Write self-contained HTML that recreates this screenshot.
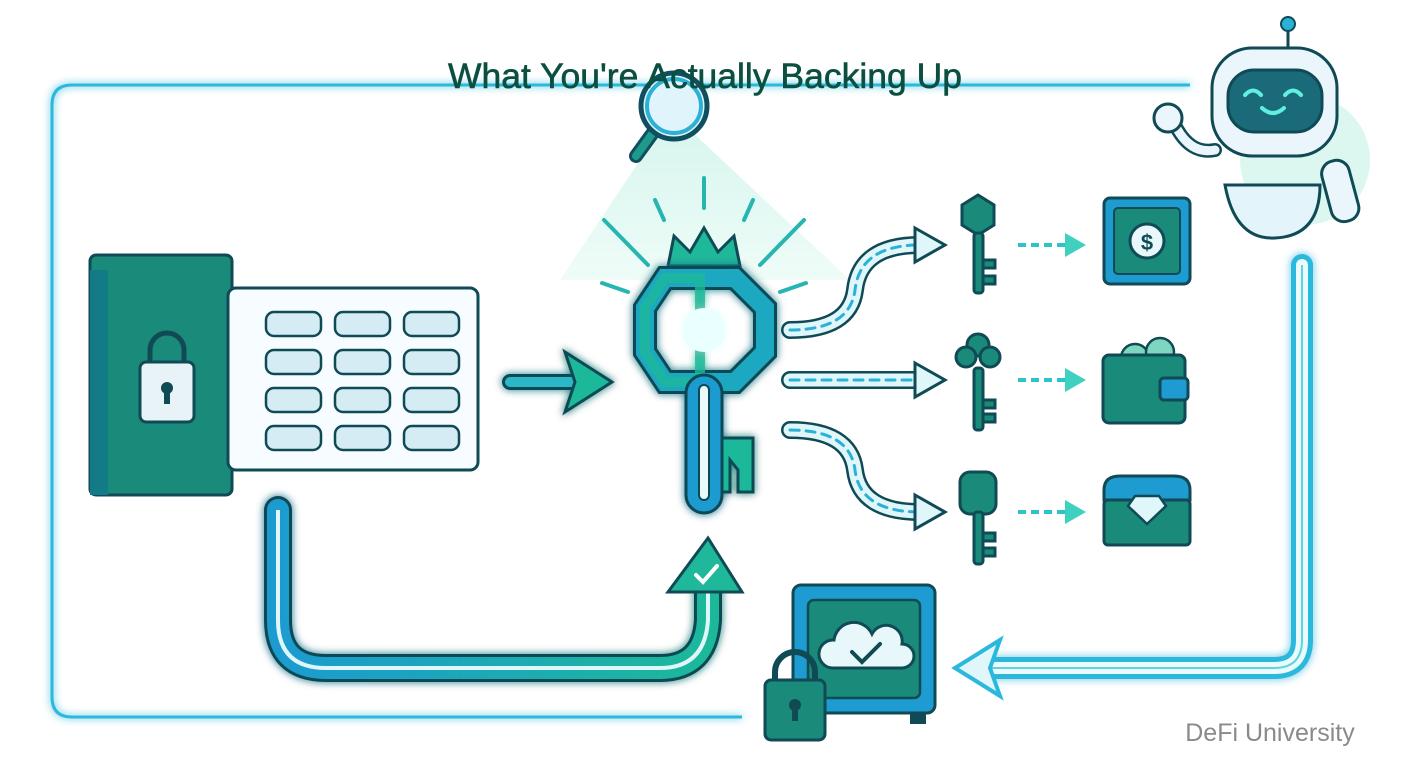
<!DOCTYPE html>
<html><head><meta charset="utf-8"><style>
html,body{margin:0;padding:0;background:#fff;width:1408px;height:768px;overflow:hidden}
svg{display:block}
</style></head><body>
<svg width="1408" height="768" viewBox="0 0 1408 768" xmlns="http://www.w3.org/2000/svg">
<defs>
<filter id="glow" x="-20%" y="-20%" width="140%" height="140%"><feGaussianBlur stdDeviation="4" result="b"/><feMerge><feMergeNode in="b"/><feMergeNode in="SourceGraphic"/></feMerge></filter>
<linearGradient id="cone" x1="0" y1="0" x2="0" y2="1"><stop offset="0" stop-color="#d8f6ee"/><stop offset="1" stop-color="#effcf8"/></linearGradient>
<linearGradient id="ug" x1="0" y1="0" x2="1" y2="0"><stop offset="0" stop-color="#1e9bd0"/><stop offset="1" stop-color="#1fb89a"/></linearGradient>
</defs>
<polygon points="660,130 560,280 850,280 690,130" fill="url(#cone)"/>
<path d="M1190,85 H72 Q52,85 52,105 V697 Q52,717 72,717 H742" fill="none" stroke="#2bb8dc" stroke-width="3" filter="url(#glow)"/>
<!-- magnifier -->
<line x1="636" y1="156" x2="652" y2="134" stroke="#0f4f60" stroke-width="14" stroke-linecap="round"/>
<line x1="636" y1="156" x2="652" y2="134" stroke="#1f9a8a" stroke-width="8" stroke-linecap="round"/>
<circle cx="674" cy="106" r="33" fill="#dff4fb" stroke="#0f4f60" stroke-width="5"/>
<circle cx="674" cy="106" r="27" fill="none" stroke="#2bb0d6" stroke-width="4"/>
<text x="705" y="88" text-anchor="middle" font-family="Liberation Sans, sans-serif" font-size="35.5" fill="#0b4f40" stroke="#0b4f40" stroke-width="0.6">What You're Actually Backing Up</text>
<!-- book -->
<rect x="90" y="255" width="142" height="240" rx="6" fill="#1a8a7a" stroke="#0f4a55" stroke-width="3"/>
<rect x="90" y="270" width="18" height="225" fill="#137a88"/>
<rect x="228" y="288" width="250" height="182" rx="8" fill="#f6fcff" stroke="#0f4a55" stroke-width="3"/>
<rect x="140" y="362" width="54" height="60" rx="6" fill="#e8f3f7" stroke="#0f4a55" stroke-width="3"/>
<path d="M150,362 V350 a17,17 0 0 1 34,0 V362" fill="none" stroke="#0f4a55" stroke-width="5"/>
<circle cx="167" cy="388" r="6" fill="#0f4a55"/><rect x="164" y="390" width="6" height="14" fill="#0f4a55"/>
<g fill="#d5ecf5" stroke="#0f4a55" stroke-width="2.5">
<rect x="266" y="312" width="55" height="24" rx="8"/><rect x="335" y="312" width="55" height="24" rx="8"/><rect x="404" y="312" width="55" height="24" rx="8"/>
<rect x="266" y="350" width="55" height="24" rx="8"/><rect x="335" y="350" width="55" height="24" rx="8"/><rect x="404" y="350" width="55" height="24" rx="8"/>
<rect x="266" y="388" width="55" height="24" rx="8"/><rect x="335" y="388" width="55" height="24" rx="8"/><rect x="404" y="388" width="55" height="24" rx="8"/>
<rect x="266" y="426" width="55" height="24" rx="8"/><rect x="335" y="426" width="55" height="24" rx="8"/><rect x="404" y="426" width="55" height="24" rx="8"/>
</g>
<g filter="url(#glow)"><path d="M510,382 H575" stroke="#0f4a55" stroke-width="16" stroke-linecap="round"/><path d="M510,382 H575" stroke="#2ab8c8" stroke-width="10" stroke-linecap="round"/>
<polygon points="565,352 612,382 565,412 575,382" fill="#1fb89a" stroke="#0f4a55" stroke-width="3"/></g>
<g stroke="#26b5b0" stroke-width="4" stroke-linecap="round">
<line x1="704" y1="178" x2="704" y2="208"/><line x1="655" y1="200" x2="664" y2="220"/><line x1="753" y1="200" x2="744" y2="220"/>
<line x1="604" y1="220" x2="648" y2="265"/><line x1="804" y1="220" x2="760" y2="265"/>
<line x1="602" y1="283" x2="628" y2="292"/><line x1="806" y1="283" x2="780" y2="292"/>
</g>
<!-- master key -->
<polygon points="668,266 674,236 690,252 704,228 718,252 734,236 740,266" fill="#1fb89a" stroke="#0f4a55" stroke-width="3"/>
<g filter="url(#glow)">
<polygon points="665,278 735,278 765,308 765,352 735,382 665,382 645,352 645,308" fill="none" stroke="#0f4a55" stroke-width="24"/>
<polygon points="665,278 735,278 765,308 765,352 735,382 665,382 645,352 645,308" fill="none" stroke="#1ea8c0" stroke-width="18"/>
<polygon points="665,278 700,278 700,382 665,382 645,352 645,308" fill="none" stroke="#1fb89a" stroke-width="10" opacity="0.8"/>
<circle cx="704" cy="330" r="22" fill="#eaffff"/>
<rect x="686" y="375" width="36" height="138" rx="18" fill="#1e9bd0" stroke="#0f4a55" stroke-width="3"/>
<rect x="699" y="385" width="10" height="115" rx="5" fill="#eafafa" stroke="#0f4a55" stroke-width="2"/>
<path d="M722,438 H753 V492 H738 V470 L730,460 V492 H722 Z" fill="#1fb89a" stroke="#0f4a55" stroke-width="3"/>
</g>
<g fill="none" stroke-linecap="round">
<path d="M790,330 Q850,330 855,290 Q860,245 920,245" stroke="#0f4a55" stroke-width="18"/>
<path d="M790,330 Q850,330 855,290 Q860,245 920,245" stroke="#dff6fb" stroke-width="13"/>
<path d="M790,330 Q850,330 855,290 Q860,245 920,245" stroke="#2bb0d6" stroke-width="3" stroke-dasharray="9 7"/>
<path d="M790,380 H920" stroke="#0f4a55" stroke-width="18"/><path d="M790,380 H920" stroke="#dff6fb" stroke-width="13"/><path d="M790,380 H920" stroke="#2bb0d6" stroke-width="3" stroke-dasharray="9 7"/>
<path d="M790,430 Q850,430 855,470 Q860,512 920,512" stroke="#0f4a55" stroke-width="18"/>
<path d="M790,430 Q850,430 855,470 Q860,512 920,512" stroke="#dff6fb" stroke-width="13"/>
<path d="M790,430 Q850,430 855,470 Q860,512 920,512" stroke="#2bb0d6" stroke-width="3" stroke-dasharray="9 7"/>
</g>
<g fill="#dff6fb" stroke="#0f4a55" stroke-width="3">
<polygon points="915,228 945,245 915,262"/><polygon points="915,363 945,380 915,397"/><polygon points="915,495 945,512 915,529"/>
</g>
<g fill="#1a8a7a" stroke="#0f4a55" stroke-width="3">
<polygon points="962,205 978,195 994,205 994,225 978,235 962,225"/><rect x="974" y="233" width="9" height="60" rx="3"/><rect x="983" y="260" width="12" height="8"/><rect x="983" y="276" width="12" height="8"/>
<circle cx="978" cy="345" r="11"/><circle cx="966" cy="357" r="10"/><circle cx="990" cy="357" r="10"/><rect x="974" y="368" width="9" height="62" rx="3"/><rect x="983" y="400" width="12" height="8"/><rect x="983" y="414" width="12" height="8"/>
<rect x="960" y="472" width="36" height="42" rx="10"/><rect x="974" y="512" width="9" height="52" rx="3"/><rect x="983" y="533" width="12" height="8"/><rect x="983" y="548" width="12" height="8"/>
</g>
<g stroke="#2bc4c8" stroke-width="4" stroke-dasharray="8 5"><line x1="1018" y1="245" x2="1068" y2="245"/><line x1="1018" y1="380" x2="1068" y2="380"/><line x1="1018" y1="512" x2="1068" y2="512"/></g>
<g fill="#3fd0c0"><polygon points="1065,233 1086,245 1065,257"/><polygon points="1065,368 1086,380 1065,392"/><polygon points="1065,500 1086,512 1065,524"/></g>
<rect x="1104" y="198" width="86" height="86" rx="6" fill="#1e9bd0" stroke="#0f4a55" stroke-width="3"/>
<rect x="1114" y="208" width="66" height="66" rx="4" fill="#1a8a7a" stroke="#0f4a55" stroke-width="2"/>
<circle cx="1147" cy="241" r="17" fill="#e8f8fa" stroke="#0f4a55" stroke-width="3"/>
<text x="1147" y="250" text-anchor="middle" font-family="Liberation Sans, sans-serif" font-weight="bold" font-size="22" fill="#0f4a55">$</text>
<circle cx="1135" cy="358" r="14" fill="#7fd6c0" stroke="#0f4a55" stroke-width="2.5"/><circle cx="1160" cy="352" r="14" fill="#7fd6c0" stroke="#0f4a55" stroke-width="2.5"/>
<rect x="1103" y="355" width="82" height="68" rx="6" fill="#1a8a7a" stroke="#0f4a55" stroke-width="3"/>
<rect x="1160" y="378" width="28" height="22" rx="4" fill="#1e9bd0" stroke="#0f4a55" stroke-width="3"/>
<path d="M1104,500 V490 Q1104,476 1120,476 H1174 Q1190,476 1190,490 V500 Z" fill="#1e9bd0" stroke="#0f4a55" stroke-width="3"/>
<rect x="1104" y="500" width="86" height="45" rx="4" fill="#1a8a7a" stroke="#0f4a55" stroke-width="3"/>
<polygon points="1135,496 1159,496 1166,506 1147,524 1128,506" fill="#dff6fb" stroke="#0f4a55" stroke-width="2.5"/>
<g fill="none" filter="url(#glow)">
<path d="M1302,265 V640 Q1302,668 1274,668 H990" stroke="#2bb8dc" stroke-width="22" stroke-linecap="round"/>
<path d="M1302,265 V640 Q1302,668 1274,668 H990" stroke="#eafbfd" stroke-width="12" stroke-linecap="round"/>
<path d="M1302,265 V640 Q1302,668 1274,668 H990" stroke="#5fd4dc" stroke-width="2"/>
</g>
<polygon points="1000,640 955,668 1000,696 990,668" fill="#dff6fb" stroke="#2bb8dc" stroke-width="4"/>
<g fill="none" filter="url(#glow)">
<path d="M278,510 V620 Q278,668 326,668 H660 Q705,668 708,620 V580" stroke="#0f4a55" stroke-width="28" stroke-linecap="round"/>
<path d="M278,510 V620 Q278,668 326,668 H660 Q705,668 708,620 V580" stroke="url(#ug)" stroke-width="22" stroke-linecap="round"/>
<path d="M278,510 V620 Q278,668 326,668 H660 Q705,668 708,620 V580" stroke="#dff6fb" stroke-width="4"/>
</g>
<polygon points="668,592 708,538 742,592" fill="#1fb89a" stroke="#0f4a55" stroke-width="3"/>
<path d="M696,575 L703,582 L717,566" fill="none" stroke="#fff" stroke-width="4" stroke-linecap="round"/>
<rect x="793" y="585" width="142" height="128" rx="8" fill="#1e9bd0" stroke="#0f4a55" stroke-width="3"/>
<rect x="808" y="600" width="112" height="98" rx="6" fill="#1a8a7a" stroke="#0f4a55" stroke-width="2.5"/>
<rect x="802" y="712" width="16" height="12" fill="#0f4a55"/><rect x="910" y="712" width="16" height="12" fill="#0f4a55"/>
<path d="M832,668 a14,14 0 0 1 2,-28 a20,20 0 0 1 38,-6 a16,16 0 0 1 30,10 a12,12 0 0 1 0,24 Z" fill="#e8f8fa" stroke="#0f4a55" stroke-width="3"/>
<path d="M852,652 L862,662 L880,644" fill="none" stroke="#0f4a55" stroke-width="4" stroke-linecap="round"/>
<path d="M775,680 V672 a20,20 0 0 1 40,0 V680" fill="none" stroke="#0f4a55" stroke-width="6"/>
<rect x="765" y="680" width="60" height="60" rx="6" fill="#1a8a7a" stroke="#0f4a55" stroke-width="3"/>
<circle cx="795" cy="705" r="6" fill="#0f4a55"/><rect x="792" y="707" width="6" height="14" fill="#0f4a55"/>
<!-- robot -->
<circle cx="1305" cy="160" r="65" fill="#dcf7f0"/>
<line x1="1288" y1="28" x2="1288" y2="50" stroke="#0f4a55" stroke-width="3"/><circle cx="1288" cy="24" r="7" fill="#2bb0d6" stroke="#0f4a55" stroke-width="2"/>
<path d="M1225,185 Q1235,240 1275,238 Q1320,236 1320,185 Z" fill="#e4f4fb" stroke="#0f4a55" stroke-width="3"/>
<rect x="1212" y="48" width="125" height="108" rx="40" fill="#eaf6fc" stroke="#0f4a55" stroke-width="3"/>
<rect x="1228" y="70" width="94" height="62" rx="26" fill="#1a6a7a" stroke="#0f4a55" stroke-width="3"/>
<path d="M1245,95 q8,-9 16,0 M1285,95 q8,-9 16,0" fill="none" stroke="#5ff0e0" stroke-width="4" stroke-linecap="round"/>
<path d="M1262,108 q11,10 22,0" fill="none" stroke="#5ff0e0" stroke-width="4" stroke-linecap="round"/>
<rect x="1326" y="160" width="28" height="62" rx="13" fill="#eaf6fc" stroke="#0f4a55" stroke-width="3" transform="rotate(-15 1340 190)"/>
<path d="M1215,150 Q1190,155 1175,125" fill="none" stroke="#0f4a55" stroke-width="14" stroke-linecap="round"/>
<path d="M1215,150 Q1190,155 1175,125" fill="none" stroke="#eaf6fc" stroke-width="9" stroke-linecap="round"/>
<circle cx="1168" cy="118" r="14" fill="#eaf6fc" stroke="#0f4a55" stroke-width="3"/>
<text x="1270" y="741" text-anchor="middle" font-family="Liberation Sans, sans-serif" font-size="25" fill="#8a8a8a">DeFi University</text>
</svg>
</body></html>
